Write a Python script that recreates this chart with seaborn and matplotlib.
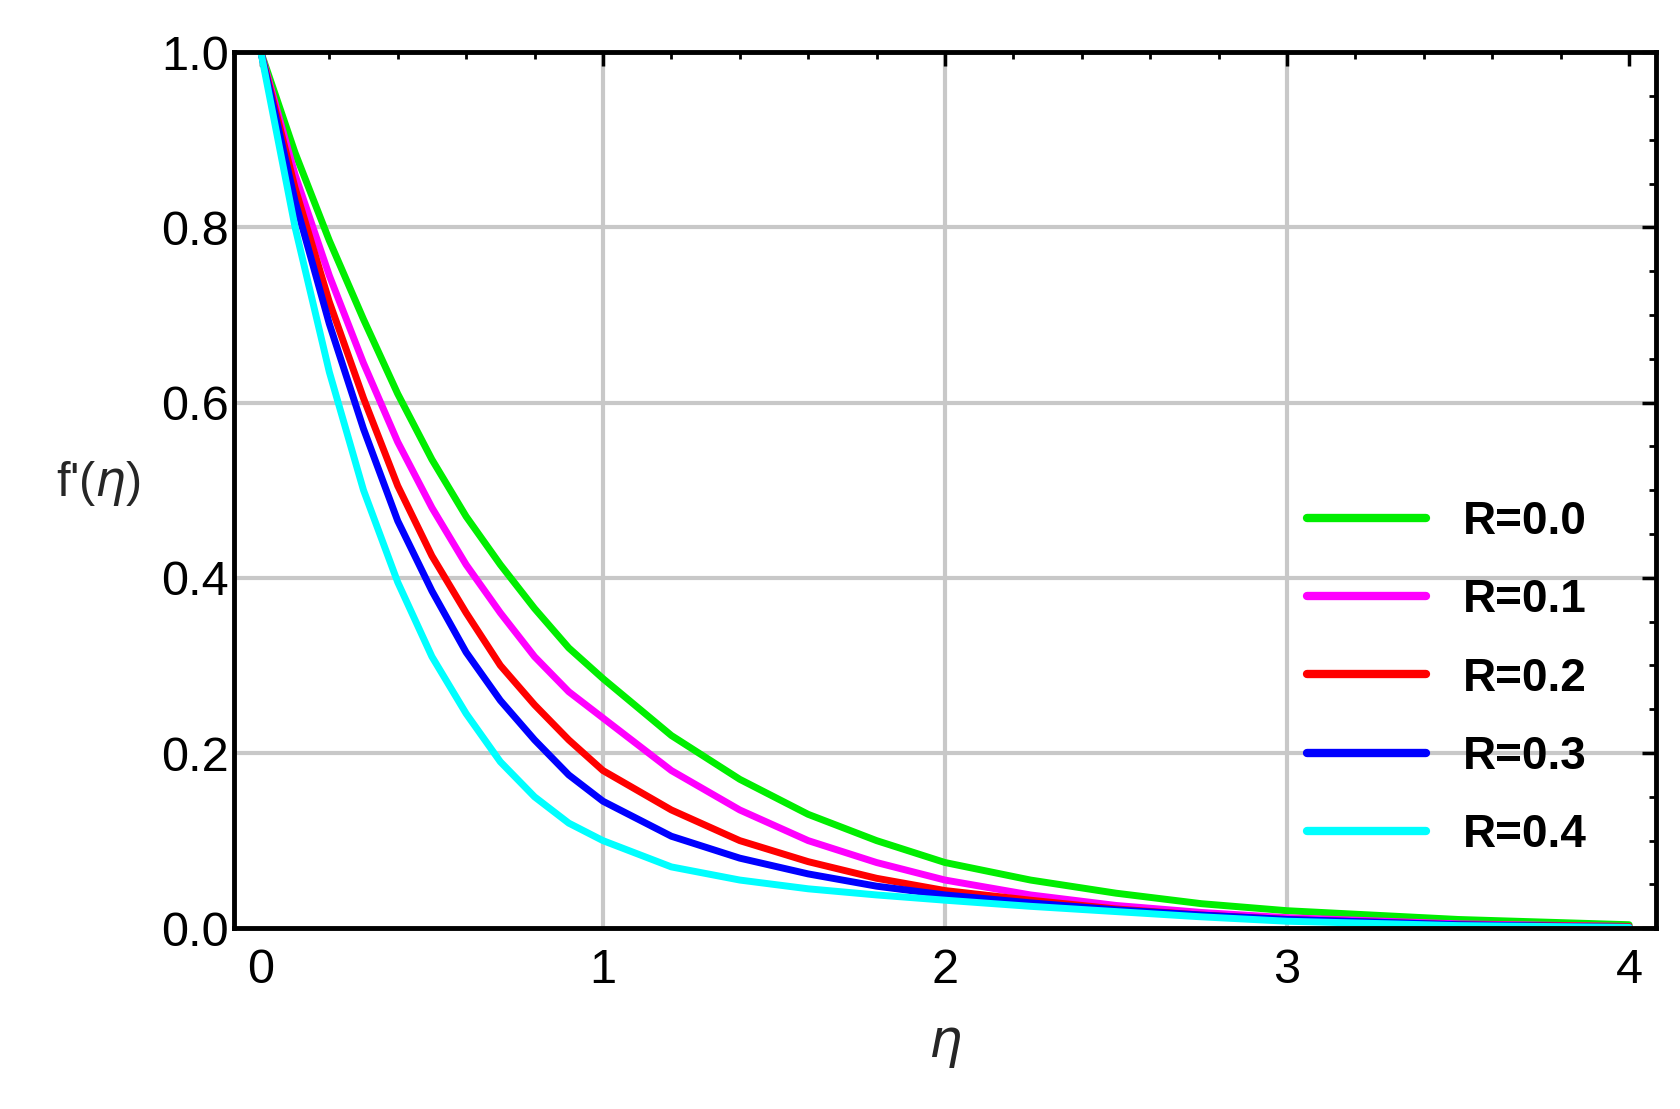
import numpy as np
import pandas as pd
import matplotlib
matplotlib.use("Agg")
import matplotlib.pyplot as plt
from matplotlib.ticker import AutoMinorLocator
import seaborn as sns

# Values
eta = [0, 0.1, 0.2, 0.3, 0.4, 0.5, 0.6, 0.7, 0.8, 0.9, 1.0, 1.2, 1.4, 1.6, 1.8,
       2.0, 2.25, 2.5, 2.75, 3.0, 3.5, 4.0]
f_r00 = [1, 0.885, 0.785, 0.695, 0.61, 0.535, 0.47, 0.415, 0.365, 0.32, 0.285,
         0.22, 0.17, 0.13, 0.1, 0.075, 0.055, 0.04, 0.028, 0.02, 0.01, 0.004]
f_r01 = [1, 0.86, 0.745, 0.645, 0.555, 0.48, 0.415, 0.36, 0.31, 0.27, 0.24,
         0.18, 0.135, 0.1, 0.075, 0.055, 0.038, 0.026, 0.018, 0.012, 0.005, 0.002]
f_r02 = [1, 0.845, 0.715, 0.605, 0.505, 0.425, 0.36, 0.3, 0.255, 0.215, 0.18,
         0.135, 0.1, 0.076, 0.057, 0.043, 0.032, 0.022, 0.015, 0.01, 0.004, 0.002]
f_r03 = [1, 0.83, 0.69, 0.57, 0.465, 0.385, 0.315, 0.26, 0.215, 0.175, 0.145,
         0.105, 0.08, 0.062, 0.048, 0.038, 0.029, 0.021, 0.015, 0.01, 0.004, 0.001]
f_r04 = [1, 0.8, 0.635, 0.5, 0.395, 0.31, 0.245, 0.19, 0.15, 0.12, 0.1,
         0.07, 0.055, 0.045, 0.038, 0.032, 0.025, 0.019, 0.013, 0.008, 0.003, 0.001]
labels = ["R=0.0", "R=0.1", "R=0.2", "R=0.3", "R=0.4"]
colors = ["#00ee00", "#ff00ff", "#ff0000", "#0000ff", "#00ffff"]

df = pd.DataFrame({"eta": eta * 5,
                   "f": f_r00 + f_r01 + f_r02 + f_r03 + f_r04,
                   "R": sum([[l] * len(eta) for l in labels], [])})

sns.set_style("white")
plt.rcParams["font.family"] = ["Liberation Sans", "DejaVu Sans"]
plt.rcParams["text.color"] = "black"
plt.rcParams["xtick.color"] = "black"
plt.rcParams["ytick.color"] = "black"

fig = plt.figure(figsize=(16.8, 11.09), dpi=100)
ax = fig.add_axes([0.139, 0.163, 0.847, 0.79])
sns.lineplot(data=df, x="eta", y="f", hue="R", palette=colors, linewidth=5, ax=ax)

ax.set_xlim(-0.08, 4.08)
ax.set_ylim(0, 1.0)
ax.set_xticks([0, 1, 2, 3, 4])
ax.set_yticks([0, 0.2, 0.4, 0.6, 0.8, 1.0])
ax.set_yticklabels(["0.0", "0.2", "0.4", "0.6", "0.8", "1.0"])
ax.xaxis.set_minor_locator(AutoMinorLocator(5))
ax.yaxis.set_minor_locator(AutoMinorLocator(4))
ax.tick_params(which="both", direction="in", top=True, right=True, labelsize=35)
ax.tick_params(axis="x", pad=14)
ax.tick_params(which="major", length=10, width=2.5)
ax.tick_params(which="minor", length=5, width=2)
for s in ax.spines.values():
    s.set_linewidth(3.5)
    s.set_color("black")
for x in [1, 2, 3]:
    ax.axvline(x, color="#c8c8c8", lw=3, zorder=0)
for y in [0.2, 0.4, 0.6, 0.8]:
    ax.axhline(y, color="#c8c8c8", lw=3, zorder=0)

ax.set_xlabel(r"$\eta$", fontsize=38, labelpad=20)
ax.set_ylabel(r"f'($\eta$)", fontsize=35, rotation=0)
ax.yaxis.set_label_coords(-0.095, 0.48)

leg = ax.legend(loc="center right", bbox_to_anchor=(0.98, 0.285), frameon=False,
                handlelength=2.6, labelspacing=0.75, prop={"size": 33, "weight": "bold"})
for h in leg.get_lines():
    h.set_linewidth(6)

plt.savefig("out.png", dpi=100)
plt.close()
